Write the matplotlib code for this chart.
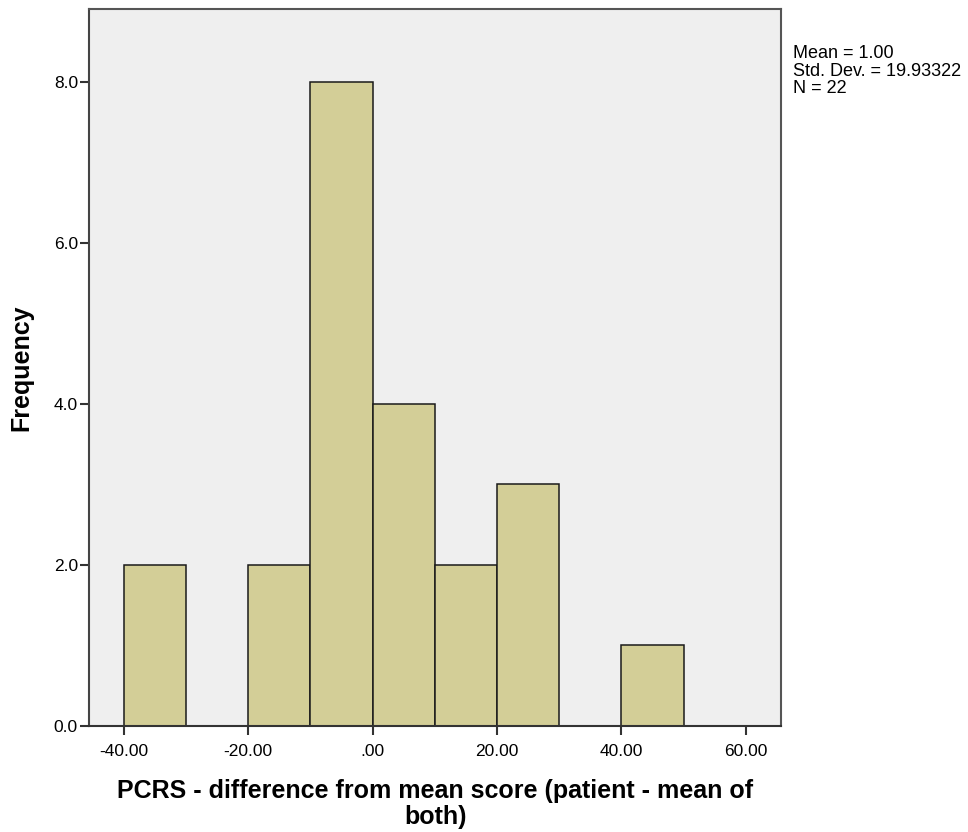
import numpy as np
import matplotlib.pyplot as plt
from matplotlib.ticker import FuncFormatter

plt.rcParams['font.family'] = ['Liberation Sans', 'DejaVu Sans']

bin_left = [-40, -30, -20, -10, 0, 10, 20, 30, 40, 50]
counts = [2, 0, 2, 8, 4, 2, 3, 0, 1, 0]
bin_width = 10
x_ticks = [-40, -20, 0, 20, 40, 60]
y_ticks = [0, 2, 4, 6, 8]
stats_text = "Mean = 1.00\nStd. Dev. = 19.93322\nN = 22"

fig = plt.figure(figsize=(9.68, 8.32), dpi=100)
ax = fig.add_axes([0.092, 0.1274, 0.715, 0.8617])
ax.set_facecolor('#efefef')

lefts = [b for b, c in zip(bin_left, counts) if c > 0]
heights = [c for c in counts if c > 0]
ax.bar(lefts, heights, width=bin_width, align='edge', color='#d3ce97',
       edgecolor='#1a1a1a', linewidth=1.1, zorder=2)

ax.set_xlim(-45.6, 65.7)
ax.set_ylim(0, 8.9)
ax.set_xticks(x_ticks)
ax.set_yticks(y_ticks)


def fmt_x(v, pos):
    s = f"{v:.2f}"
    if s.startswith("0"):
        s = s[1:]
    if s.startswith("-0"):
        s = "-" + s[2:]
    return s


ax.xaxis.set_major_formatter(FuncFormatter(fmt_x))
ax.yaxis.set_major_formatter(FuncFormatter(lambda v, p: f"{v:.1f}"))
ax.tick_params(direction='out', length=6.5, width=1.5, color='#333333',
               labelsize=12.5)
ax.tick_params(axis='x', pad=6.5)
ax.tick_params(axis='y', pad=1.5)
for s in ax.spines.values():
    s.set_color('#555555')
    s.set_linewidth(1.5)
ax.spines['left'].set_color('#444444')
ax.spines['bottom'].set_color('#333333')

ax.set_ylabel('Frequency', fontsize=18, fontweight='bold', labelpad=15)
ax.set_xlabel('PCRS - difference from mean score (patient - mean of\nboth)',
              fontsize=18, fontweight='bold', labelpad=14, linespacing=1.15)

fig.text(793 / 968, 1 - 45 / 832, stats_text, fontsize=13, va='top', ha='left',
         linespacing=1.05)

fig.savefig('out.png', dpi=100)
